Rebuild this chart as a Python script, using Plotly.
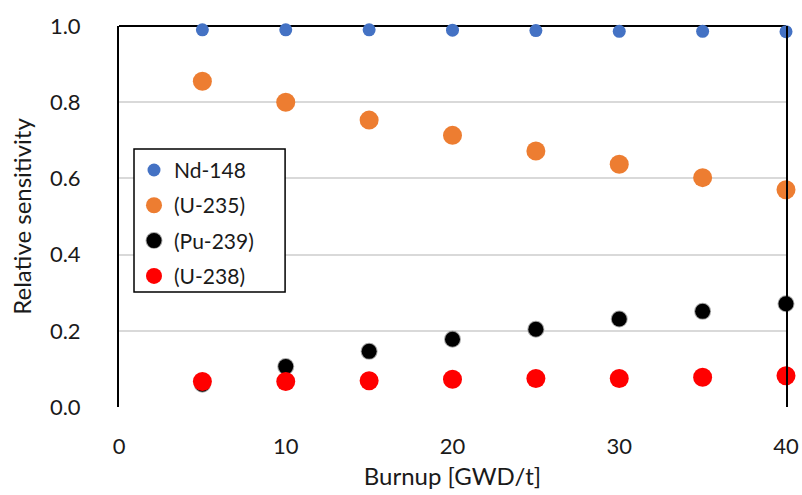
import plotly.graph_objects as go

burnup = [5, 10, 15, 20, 25, 30, 35, 40]
nd148 = [0.990, 0.990, 0.990, 0.989, 0.988, 0.986, 0.986, 0.985]
u235 = [0.855, 0.800, 0.753, 0.713, 0.672, 0.637, 0.602, 0.570]
pu239 = [0.060, 0.106, 0.146, 0.178, 0.204, 0.231, 0.251, 0.271]
u238 = [0.067, 0.067, 0.069, 0.073, 0.075, 0.075, 0.078, 0.082]

x_ticks = [0, 10, 20, 30, 40]
y_ticks = [0.0, 0.2, 0.4, 0.6, 0.8, 1.0]

FONT = "Lato, 'Open Sans', sans-serif"
TEXT = "#1a1a1a"

series = [
    ("Nd-148", nd148, "#4472C4", 13, None),
    ("(U-235)", u235, "#ED7D31", 19, None),
    ("(Pu-239)", pu239, "#000000", 15, dict(color="rgba(0,0,0,0.35)", width=2)),
    ("(U-238)", u238, "#FF0000", 19, None),
]

fig = go.Figure()
for name, vals, color, size, outline in series:
    marker = dict(color=color, size=size)
    marker["line"] = outline if outline else dict(width=0)
    fig.add_trace(go.Scatter(
        x=burnup, y=vals, mode="markers", name=name,
        legendgroup=name, marker=marker, cliponaxis=False,
    ))

# black frame on top; left/right black via mirrored y-axis line
fig.add_shape(type="line", xref="paper", yref="paper", x0=0, x1=1, y0=1, y1=1,
              line=dict(color="black", width=2), layer="below")

# legend frame, a little wider than plotly's auto-sized box
fig.add_shape(type="rect", xref="paper", yref="paper",
              x0=0.0225, x1=0.249, y0=0.302, y1=0.677,
              line=dict(color="black", width=1.5), fillcolor="white", layer="above")

fig.update_layout(
    width=802, height=495,
    margin=dict(l=119, r=16, t=26, b=88),
    paper_bgcolor="white", plot_bgcolor="white",
    font=dict(family=FONT, size=22, color=TEXT),
    showlegend=True,
    legend=dict(
        x=0.0225, y=0.675, xanchor="left", yanchor="top",
        borderwidth=0, bgcolor="rgba(0,0,0,0)",
        font=dict(size=21, family=FONT, color=TEXT),
        tracegroupgap=5, itemsizing="trace", itemwidth=30,
    ),
    xaxis=dict(
        range=[0, 40], tickvals=x_ticks, ticktext=[str(v) for v in x_ticks],
        showgrid=False, zeroline=False, showline=False, ticks="",
        tickfont=dict(size=22), ticklabelstandoff=24, automargin=False,
        title=dict(text="Burnup [GWD/t]", font=dict(size=24), standoff=10),
    ),
    yaxis=dict(
        range=[0, 1], tickvals=y_ticks, ticktext=[f"{v:.1f}" for v in y_ticks],
        showgrid=True, gridcolor="#D9D9D9", gridwidth=1.5,
        zeroline=False, showline=True, linecolor="black", linewidth=2,
        mirror=True, ticks="", tickfont=dict(size=22), ticklabelstandoff=32,
        automargin=False,
        title=dict(text="Relative sensitivity", font=dict(size=24), standoff=11),
    ),
)

fig.write_html("out.html")
